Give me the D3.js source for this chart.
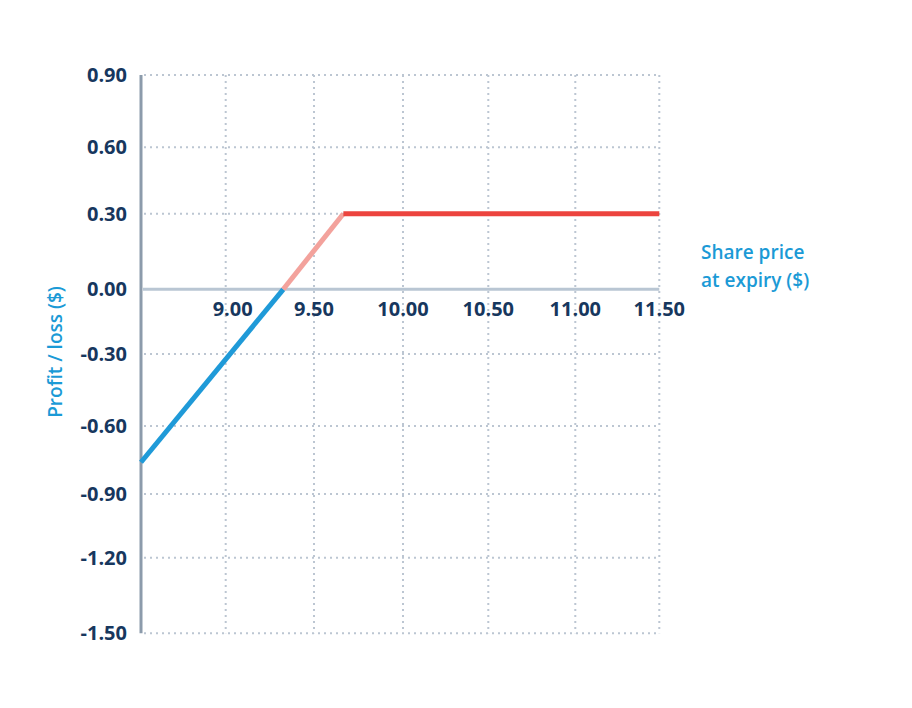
<!DOCTYPE html>
<html>
<head>
<meta charset="utf-8">
<script src="https://cdn.jsdelivr.net/npm/d3@7"></script>
<style>
  html, body { margin: 0; padding: 0; background: #ffffff; }
  svg { display: block; }
  text { font-family: "Open Sans", "Noto Sans", sans-serif; }
</style>
</head>
<body>
<svg id="chart" width="912" height="708"></svg>
<script>
// ---- data ----
const xTicks = [9.0, 9.5, 10.0, 10.5, 11.0, 11.5];
const yTicks = [0.9, 0.6, 0.3, 0.0, -0.3, -0.6, -0.9, -1.2, -1.5];
const xTickLabels = ["9.00", "9.50", "10.00", "10.50", "11.00", "11.50"];
const yTickLabels = ["0.90", "0.60", "0.30", "0.00", "-0.30", "-0.60", "-0.90", "-1.20", "-1.50"];
const lossSegment = [[8.5, -0.76], [9.326, 0.0]];
const partialSegment = [[9.326, 0.0], [9.665, 0.30]];
const profitSegment = [[9.665, 0.30], [11.5, 0.30]];
const xTitle = ["Share price", "at expiry ($)"];
const yTitle = "Profit / loss ($)";

// ---- layout ----
const svg = d3.select("#chart");
// piecewise-linear scales following the reference's grid positions
const x = d3.scaleLinear()
  .domain([8.5, 9.0, 9.5, 10.0, 10.5, 11.0, 11.5])
  .range([141, 225.7, 314, 403, 488.3, 575.3, 659.3]);
const y = d3.scaleLinear()
  .domain([0.9, 0.6, 0.3, 0.0, -0.3, -0.6, -0.9, -1.2, -1.5])
  .range([75, 147.3, 213.7, 289.3, 354, 426, 494, 557.7, 633.3]);

const navy = "#17375e";
const blue = "#1b9ad6";
const gridColor = "#bcc6d2";

// vertical grid lines
svg.append("g").selectAll("line").data(xTicks).join("line")
  .attr("x1", d => x(d)).attr("x2", d => x(d))
  .attr("y1", y(0.9)).attr("y2", y(-1.5))
  .attr("stroke", gridColor).attr("stroke-width", 2)
  .attr("stroke-dasharray", "2,4");

// horizontal grid lines
svg.append("g").selectAll("line").data(yTicks.filter(d => d !== 0)).join("line")
  .attr("x1", x(8.5) + 3).attr("x2", x(11.5))
  .attr("y1", d => y(d)).attr("y2", d => y(d))
  .attr("stroke", gridColor).attr("stroke-width", 2)
  .attr("stroke-dasharray", "2,4");

// zero line (x axis)
svg.append("line")
  .attr("x1", x(8.5) + 2).attr("x2", x(11.5))
  .attr("y1", y(0)).attr("y2", y(0))
  .attr("stroke", "#b9c6d3").attr("stroke-width", 3);

// left axis
svg.append("line")
  .attr("x1", x(8.5)).attr("x2", x(8.5))
  .attr("y1", y(0.9)).attr("y2", y(-1.5))
  .attr("stroke", "#8c9bab").attr("stroke-width", 3);

// y tick labels
svg.append("g").selectAll("text").data(yTicks).join("text")
  .attr("x", 127).attr("y", d => y(d) + 7)
  .attr("text-anchor", "end")
  .attr("font-size", 20).attr("font-weight", 700)
  .attr("fill", navy)
  .text((d, i) => yTickLabels[i]);

// x tick labels
svg.append("g").selectAll("text").data(xTicks).join("text")
  .attr("x", d => x(d) + (d === 9.0 ? 7 : 0)).attr("y", y(0) + 27)
  .attr("text-anchor", "middle")
  .attr("font-size", 20).attr("font-weight", 700)
  .attr("fill", navy)
  .text((d, i) => xTickLabels[i]);

// payoff line segments
const line = d3.line().x(d => x(d[0])).y(d => y(d[1]));
[[lossSegment, "#1f9ad8"], [partialSegment, "#f3a29c"], [profitSegment, "#ec443e"]].forEach(([seg, c]) => {
  svg.append("path").datum(seg)
    .attr("d", line)
    .attr("fill", "none")
    .attr("stroke", c)
    .attr("stroke-width", 5)
    .attr("stroke-linecap", "butt");
});

// x title
svg.append("text")
  .attr("x", 701).attr("y", 0)
  .attr("font-size", 19).attr("font-weight", 600)
  .attr("fill", blue)
  .selectAll("tspan").data(xTitle).join("tspan")
  .attr("x", 701).attr("y", (d, i) => 259 + i * 28)
  .text(d => d);

// y title
svg.append("text")
  .attr("transform", "translate(62,352) rotate(-90)")
  .attr("text-anchor", "middle")
  .attr("font-size", 19).attr("font-weight", 600)
  .attr("fill", blue)
  .text(yTitle);
</script>
</body>
</html>
